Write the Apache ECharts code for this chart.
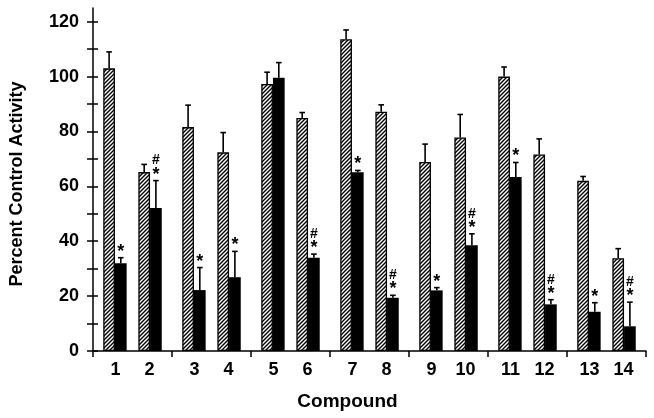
<!DOCTYPE html>
<html><head><meta charset="utf-8">
<script src="https://cdn.jsdelivr.net/npm/echarts@6/dist/echarts.min.js"></script>
<style>html,body{margin:0;padding:0;background:#fff}#c{width:654px;height:418px}</style>
</head><body><div id="c"></div>
<script>
const compounds = ['1','2','3','4','5','6','7','8','9','10','11','12','13','14'];
const controlValues = [103, 65.2, 81.6, 72.4, 97.3, 84.9, 113.6, 87.2, 68.9, 77.8, 100, 71.6, 62, 33.8];
const controlErrors = [6, 2.8, 8, 7.2, 4.3, 2, 3.4, 2.5, 6.5, 8.4, 3.5, 5.7, 1.6, 3.5];
const treatedValues = [32, 52.1, 22.2, 26.9, 99.6, 34, 65.1, 19.4, 22.1, 38.5, 63.4, 17, 14.3, 9];
const treatedErrors = [2, 10, 8.2, 9.4, 5.5, 1.3, 0.7, 0.9, 1, 4.2, 5.3, 1.7, 3.3, 8.8];
const treatedMarks = ['*','#*','*','*','','#*','*','#*','*','#*','*','#*','*','#*'];
const yTickValues = [0,10,20,30,40,50,60,70,80,90,100,110,120];
const yLabelValues = [0,20,40,60,80,100,120];

const FONT = 'Liberation Sans, Arial, sans-serif';
const BAR_W = 11.7;

// hatch pattern
const pc = document.createElement('canvas');
pc.width = 4; pc.height = 4;
const pctx = pc.getContext('2d');
pctx.fillStyle = '#fff'; pctx.fillRect(0,0,4,4);
pctx.strokeStyle = '#000'; pctx.lineWidth = 1.4;
pctx.beginPath();
pctx.moveTo(-1,5); pctx.lineTo(5,-1);
pctx.moveTo(-1,1); pctx.lineTo(1,-1);
pctx.moveTo(3,5); pctx.lineTo(5,3);
pctx.stroke();
const hatch = {image: pc, repeat: 'repeat'};

const nGroups = compounds.length / 2;
const groups = Array.from({length: nGroups}, (_, i) => compounds[2*i] + '|' + compounds[2*i+1]);
const pick = (arr, odd) => arr.filter((_, i) => (i % 2) === odd);

function barSeries(data, style) {
  return {type: 'bar', data: data, barWidth: BAR_W, barGap: 0, itemStyle: style, z: 3, silent: true};
}
function errSeries(vals, errs, marks, slot) {
  return {
    type: 'custom', z: 5, silent: true,
    data: vals.map((v, i) => [i, v, errs[i]]),
    renderItem(params, api) {
      const gi = api.value(0), v = api.value(1), e = api.value(2);
      const base = api.coord([gi, v]);
      const top = api.coord([gi, v + e]);
      const x = base[0] + (slot - 2) * BAR_W;
      const children = [
        {type: 'line', shape: {x1: x, y1: base[1], x2: x, y2: top[1]}, style: {stroke: '#000', lineWidth: 1.6}},
        {type: 'line', shape: {x1: x - 2.8, y1: top[1], x2: x + 2.8, y2: top[1]}, style: {stroke: '#000', lineWidth: 1.6}}
      ];
      const m = marks ? marks[params.dataIndex] : '';
      if (m.indexOf('*') >= 0) {
        children.push({type: 'text', style: {text: '*', x: x, y: top[1] + 3, align: 'center', verticalAlign: 'bottom', font: 'bold 18px ' + FONT, fill: '#000'}});
      }
      if (m.indexOf('#') >= 0) {
        children.push({type: 'text', style: {text: '#', x: x, y: top[1] - 13, align: 'center', verticalAlign: 'bottom', font: 'bold 14px ' + FONT, fill: '#000'}});
      }
      return {type: 'group', children: children};
    }
  };
}

const chart = echarts.init(document.getElementById('c'), null, {renderer: 'canvas'});
chart.setOption({
  animation: false,
  backgroundColor: '#fff',
  grid: {left: 86, right: 8, top: 8, bottom: 67, containLabel: false},
  xAxis: {
    type: 'category', data: groups,
    name: 'Compound', nameLocation: 'middle', nameGap: 41,
    nameTextStyle: {fontFamily: FONT, fontWeight: 'bold', fontSize: 19, color: '#000', padding: [0, 44, 0, 0]},
    axisLine: {lineStyle: {color: '#000', width: 1.5}},
    axisTick: {show: true, length: 6, alignWithLabel: false, lineStyle: {color: '#000', width: 1.5}},
    axisLabel: {
      interval: 0, margin: 10,
      formatter: (val, idx) => '{a|' + compounds[2*idx] + '}{b|' + compounds[2*idx+1] + '}',
      rich: {
        a: {width: 34, align: 'center', fontFamily: FONT, fontWeight: 'bold', fontSize: 18, color: '#000'},
        b: {width: 34, align: 'center', fontFamily: FONT, fontWeight: 'bold', fontSize: 18, color: '#000'}
      }
    },
    splitLine: {show: false}
  },
  yAxis: [{
    type: 'value', min: 0, max: 125,
    name: 'Percent Control Activity', nameLocation: 'middle', nameRotate: 90, nameGap: 67,
    nameTextStyle: {fontFamily: FONT, fontWeight: 'bold', fontSize: 18, color: '#000', padding: [0, 9, 0, 0]},
    axisLine: {show: true, lineStyle: {color: '#000', width: 1.5}},
    axisTick: {show: true, length: 6, customValues: yTickValues, lineStyle: {color: '#000', width: 1.5}},
    axisLabel: {customValues: yLabelValues, margin: 14, fontFamily: FONT, fontWeight: 'bold', fontSize: 18, color: '#000'},
    splitLine: {show: false}
  }, {
    type: 'value', min: 0, max: 125, position: 'left',
    axisLine: {show: false},
    axisTick: {show: true, inside: true, length: 5, customValues: yTickValues, lineStyle: {color: '#000', width: 1.5}},
    axisLabel: {show: false},
    splitLine: {show: false}
  }],
  series: [
    barSeries(pick(controlValues, 0), {color: hatch, borderColor: '#000', borderWidth: 1.3}),
    barSeries(pick(treatedValues, 0), {color: '#000'}),
    barSeries(pick(controlValues, 0).map(() => null), {color: 'transparent'}),
    barSeries(pick(controlValues, 1), {color: hatch, borderColor: '#000', borderWidth: 1.3}),
    barSeries(pick(treatedValues, 1), {color: '#000'}),
    errSeries(pick(controlValues, 0), pick(controlErrors, 0), null, 0),
    errSeries(pick(treatedValues, 0), pick(treatedErrors, 0), pick(treatedMarks, 0), 1),
    errSeries(pick(controlValues, 1), pick(controlErrors, 1), null, 3),
    errSeries(pick(treatedValues, 1), pick(treatedErrors, 1), pick(treatedMarks, 1), 4)
  ]
});
</script></body></html>
